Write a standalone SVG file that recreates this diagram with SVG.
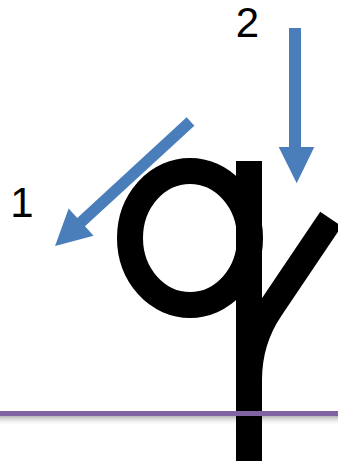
<svg xmlns="http://www.w3.org/2000/svg" width="338" height="467" viewBox="0 0 338 467">
  <defs>
    <linearGradient id="shadow" x1="0" y1="0" x2="0" y2="1">
      <stop offset="0" stop-color="#9a9a9a" stop-opacity="0.9"/>
      <stop offset="1" stop-color="#ffffff" stop-opacity="0"/>
    </linearGradient>
  </defs>
  <style>
    .ink { fill: none; stroke: #000; stroke-width: 26; }
    .arrow { fill: #4A7EBB; stroke: none; }
    .label { font-family: "Liberation Sans", Arial, sans-serif; font-size: 42px; fill: #000; text-anchor: middle; }
  </style>
  <rect width="338" height="467" fill="#fff"/>
  <g id="baseline-shadow">
    <rect x="0" y="415" width="338" height="11" fill="url(#shadow)"/>
  </g>
  <g id="letter">
    <ellipse class="ink" cx="190" cy="238" rx="60" ry="67"/>
    <line class="ink" x1="249" y1="161" x2="249" y2="461"/>
    <path class="ink" stroke-width="24" d="M331,219 L271,308 Q249,340 249,380"/>
  </g>
  <g id="baseline">
    <rect x="0" y="411" width="338" height="5" fill="#8064A2"/>
  </g>
  <g id="connectors">
    <polygon class="arrow" transform="translate(190.5,121.5) rotate(137.4)" points="0,-5.7 148.6,-5.7 148.6,-18.4 184,0 148.6,18.4 148.6,5.7 0,5.7"/>
    <polygon class="arrow" points="289,28 301,28 301,147 314.3,147 296.7,183.3 278.7,147 289,147"/>
  </g>
  <g id="label-1"><text class="label" x="22" y="217">1</text></g>
  <g id="label-2"><text class="label" x="247.5" y="37">2</text></g>
</svg>
